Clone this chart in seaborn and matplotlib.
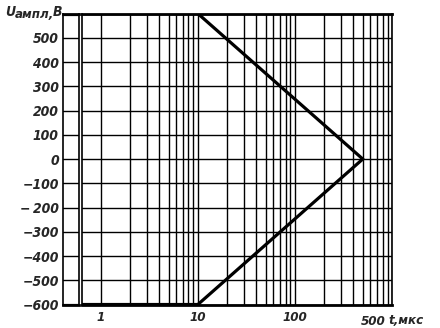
import matplotlib
matplotlib.use("Agg")
import matplotlib.pyplot as plt
import matplotlib.ticker as mticker
import seaborn as sns
import pandas as pd

# ---- data ----
upper_t = [0.1, 10, 500]
upper_u = [600, 600, 0]
lower_t = [0.1, 10, 500]
lower_u = [-600, -600, 0]
y_ticks = [600, 500, 400, 300, 200, 100, 0, -100, -200, -300, -400, -500, -600]
y_labels = ["", "500", "400", "300", "200", "100", "0",
            "−100", "−\u2009200", "−300", "−400", "−500", "−600"]
x_major = [1, 10, 100, 1000]
x_labels = ["1", "10", "100", ""]
extra_x_label = (500, "500")
x_unit = "t,мкс"

df = pd.DataFrame({
    "t": upper_t + lower_t,
    "u": upper_u + lower_u,
    "branch": ["upper"] * len(upper_t) + ["lower"] * len(lower_t),
})

sns.set_style("white")
plt.rcParams["font.family"] = ["DejaVu Sans"]

fig = plt.figure(figsize=(4.4, 3.28), dpi=100)
ax = fig.add_axes([82 / 440, 0.0716, 310 / 440, 0.887])
axl = fig.add_axes([63 / 440, 0.0716, 16 / 440, 0.887])

Y_FONT = dict(fontsize=10, fontstyle="italic", fontweight="bold", fontstretch="condensed")
X_FONT = dict(fontsize=9.5, fontstyle="italic", fontweight="bold", fontstretch="condensed")

# main log axes
sns.lineplot(data=df, x="t", y="u", units="branch", estimator=None, sort=False,
             color="black", linewidth=2.3, ax=ax, legend=False)
ax.set_xscale("log")
ax.set_xlim(0.64, 1000)
ax.set_ylim(-600, 600)
ax.xaxis.set_major_locator(mticker.FixedLocator(x_major))
ax.xaxis.set_major_formatter(mticker.FixedFormatter(x_labels))
minor_pos = [m * d for d in (1, 10, 100) for m in range(2, 10)]
ax.xaxis.set_minor_locator(mticker.FixedLocator(minor_pos))
ax.xaxis.set_minor_formatter(mticker.NullFormatter())
ax.set_yticks(y_ticks)
ax.set_yticklabels([])
ax.grid(True, which="both", axis="x", color="black", linewidth=1.0)
ax.grid(True, which="major", axis="y", color="black", linewidth=1.0)
ax.tick_params(which="both", length=0)
ax.tick_params(axis="x", pad=5)
for lab in ax.get_xticklabels():
    lab.set(**X_FONT)
ax.set_xlabel("")
ax.set_ylabel("")
for side, sp in ax.spines.items():
    sp.set_visible(True)
    sp.set_color("black")
    sp.set_linewidth(2.0 if side in ("top", "bottom") else 1.2)

ax.annotate(extra_x_label[1], xy=(extra_x_label[0], 0), xycoords=("data", "axes fraction"),
            xytext=(-1.5, -14.5), textcoords="offset points", ha="left", va="baseline",
            **X_FONT)
fig.text(388 / 440, 1 - 324.5 / 328, x_unit, ha="left", va="baseline", **X_FONT)

# left strip
axl.set_xlim(0, 1)
axl.set_ylim(-600, 600)
axl.plot([0, 1], [600, 600], color="black", linewidth=2.3)
axl.plot([0, 1], [-600, -600], color="black", linewidth=2.3)
axl.set_xticks([])
axl.set_yticks(y_ticks)
axl.set_yticklabels(y_labels, **Y_FONT)
axl.tick_params(which="both", length=0)
axl.tick_params(axis="y", pad=3)
axl.grid(True, axis="y", color="black", linewidth=1.0)
for side, sp in axl.spines.items():
    sp.set_visible(True)
    sp.set_color("black")
    sp.set_linewidth(2.0 if side in ("top", "bottom") else 1.2)

# y-axis label
L_FONT = dict(fontstyle="italic", fontweight="bold", fontstretch="condensed")
fig.text(5 / 440, 1 - 16 / 328, "U", ha="left", va="baseline", fontsize=10, **L_FONT)
fig.text(15 / 440, 1 - 18.5 / 328, "ампл,", ha="left", va="baseline", fontsize=9.5, **L_FONT)
fig.text(53 / 440, 1 - 16 / 328, "В", ha="left", va="baseline", fontsize=10, **L_FONT)

fig.savefig("out.png", dpi=100)
